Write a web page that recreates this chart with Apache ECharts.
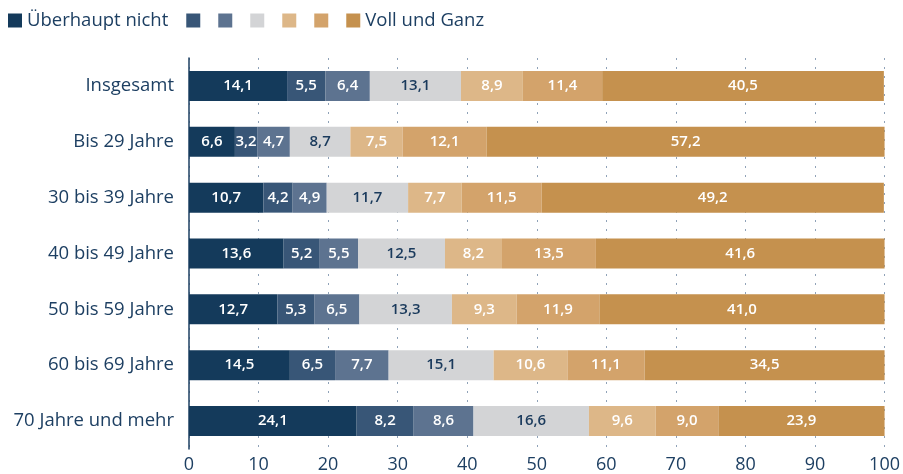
<!DOCTYPE html>
<html>
<head>
<meta charset="utf-8">
<script src="https://cdn.jsdelivr.net/npm/echarts@6/dist/echarts.min.js"></script>
<style>html,body{margin:0;padding:0;background:#fff}#c{width:903px;height:474px}</style>
</head>
<body>
<div id="c"></div>
<script>
const categories = ['Insgesamt','Bis 29 Jahre','30 bis 39 Jahre','40 bis 49 Jahre','50 bis 59 Jahre','60 bis 69 Jahre','70 Jahre und mehr'];
const seriesNames = ['Überhaupt nicht','2','3','4','5','6','Voll und Ganz'];
const s1 = [14.1, 6.6, 10.7, 13.6, 12.7, 14.5, 24.1];
const s2 = [5.5, 3.2, 4.2, 5.2, 5.3, 6.5, 8.2];
const s3 = [6.4, 4.7, 4.9, 5.5, 6.5, 7.7, 8.6];
const s4 = [13.1, 8.7, 11.7, 12.5, 13.3, 15.1, 16.6];
const s5 = [8.9, 7.5, 7.7, 8.2, 9.3, 10.6, 9.6];
const s6 = [11.4, 12.1, 11.5, 13.5, 11.9, 11.1, 9.0];
const s7 = [40.5, 57.2, 49.2, 41.6, 41.0, 34.5, 23.9];
const xTicks = [0,10,20,30,40,50,60,70,80,90,100];

const colors = ['#143a5b','#385677','#5d7390','#d3d4d6','#ddb788','#d3a36b','#c5914e'];
const labelColors = ['#fff','#fff','#fff','#1a3a5c','#fff','#fff','#fff'];
const allData = [s1,s2,s3,s4,s5,s6,s7];
const font = 'Open Sans';
const textColor = '#1d3f62';

const chart = echarts.init(document.getElementById('c'));
chart.setOption({
  animation: false,
  color: colors,
  legend: {
    left: 3, top: 6,
    itemWidth: 14, itemHeight: 14, itemGap: 18,
    icon: 'rect',
    data: seriesNames,
    formatter: n => (n === 'Überhaupt nicht' || n === 'Voll und Ganz') ? n : '',
    textStyle: {fontFamily: font, fontSize: 18.5, color: textColor}
  },
  grid: {left: 189, right: 18, top: 58, bottom: 22, containLabel: false},
  xAxis: {
    type: 'value', min: 0, max: 100, interval: 10,
    axisLine: {show: false}, axisTick: {show: false},
    splitLine: {show: true, lineStyle: {color: '#8fa2b8', type: [2, 7], width: 1}},
    axisLabel: {fontFamily: font, fontSize: 18, color: textColor, margin: 7,
      formatter: v => xTicks.includes(v) ? String(v) : ''}
  },
  yAxis: {
    type: 'category', data: categories, inverse: true,
    axisLine: {show: true, lineStyle: {color: textColor, width: 1.5}},
    axisTick: {show: false},
    axisLabel: {fontFamily: font, fontSize: 18.5, color: textColor, margin: 15}
  },
  series: allData.map((d, i) => ({
    name: seriesNames[i], type: 'bar', stack: 'total', data: d, barWidth: 30,
    itemStyle: {color: colors[i]},
    label: {show: true, position: 'inside', color: labelColors[i], fontFamily: font,
      fontSize: 15, fontWeight: 600,
      formatter: p => p.value.toFixed(1).replace('.', ',')}
  }))
});
</script>
</body>
</html>
